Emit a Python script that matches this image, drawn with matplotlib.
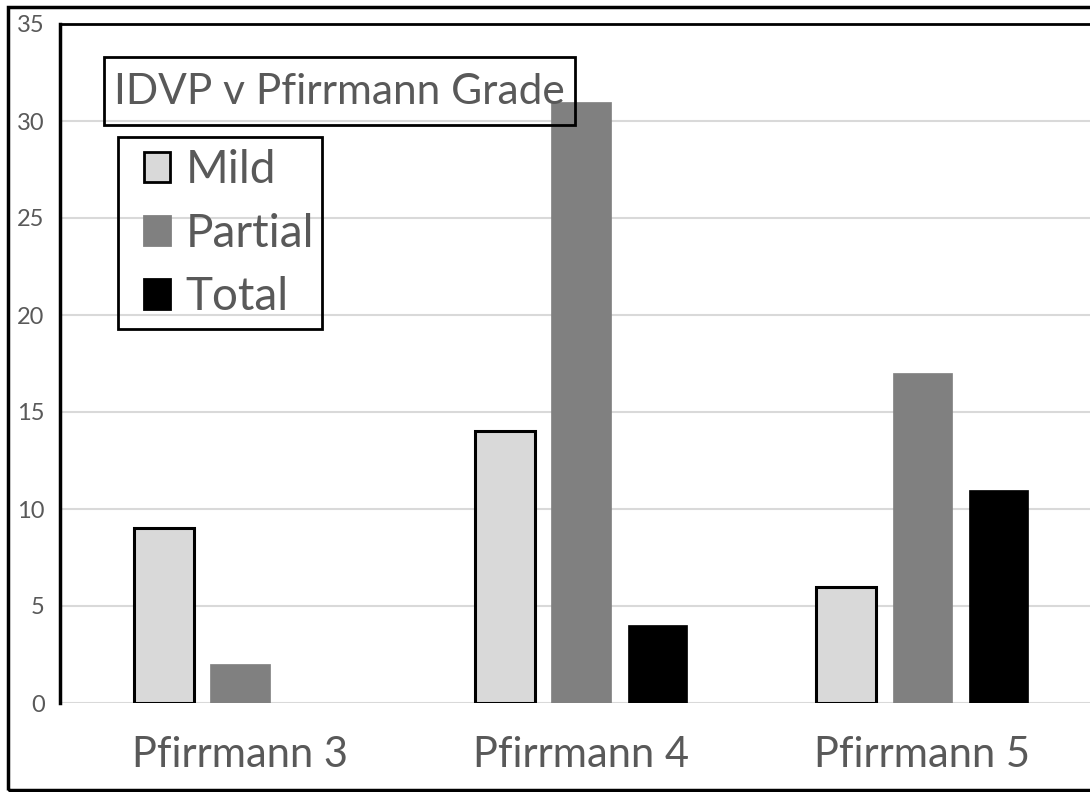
import numpy as np
import matplotlib.pyplot as plt
from matplotlib.patches import Rectangle, Patch

plt.rcParams['font.family'] = ['Lato', 'DejaVu Sans']

groups = ['Pfirrmann 3', 'Pfirrmann 4', 'Pfirrmann 5']
series = ['Mild', 'Partial', 'Total']
mild = [9, 14, 6]
partial = [2, 31, 17]
total = [0, 4, 11]
yticks = [0, 5, 10, 15, 20, 25, 30, 35]

fills = ['#d9d9d9', '#808080', '#000000']
edges = ['#000000', '#808080', '#000000']
text_grey = '#595959'

W, H = 1090, 792
fig = plt.figure(figsize=(W / 100, H / 100), dpi=100)

def px_rect(x0, y0, x1, y1, **kw):
    # rectangle given in pixel coords measured from the top-left corner
    return Rectangle((x0 / W, (H - y1) / H), (x1 - x0) / W, (y1 - y0) / H,
                     transform=fig.transFigure, fill=False, edgecolor='black', **kw)

# outer frame, right side runs off the canvas
fig.patches.append(px_rect(8, 7, 1300, 790, linewidth=2.5))

ax = fig.add_axes([60 / W, (H - 703) / H, (1093 - 60) / W, (703 - 24) / H])
x = np.arange(len(groups))
step, width = 0.223, 0.175
for i, vals in enumerate([mild, partial, total]):
    ax.bar(x + (i - 1) * step, vals, width, color=fills[i], edgecolor=edges[i],
           linewidth=2.2 if i == 0 else 0.5, zorder=3, label=series[i])

ax.set_xlim(-0.528, 2.5)
ax.set_ylim(0, 35)
ax.set_yticks(yticks)
ax.set_xticks(x)
ax.set_xticklabels(groups)
ax.yaxis.grid(True, color='#d9d9d9', linewidth=1.5, zorder=0)
ax.tick_params(axis='y', length=0, pad=11, labelsize=17, labelcolor=text_grey)
ax.tick_params(axis='x', length=0, pad=24, labelsize=30, labelcolor=text_grey)
for side in ['right', 'bottom']:
    ax.spines[side].set_visible(False)
ax.spines['left'].set_linewidth(2.5)
ax.spines['top'].set_linewidth(2)

# title inside an outlined box
fig.patches.append(px_rect(104, 57, 575, 125, linewidth=2, zorder=5))
fig.text(114 / W, (H - 92) / H, 'IDVP v Pfirrmann Grade', fontsize=30.5,
         color=text_grey, va='center', ha='left')

# legend, with its own outline box
fig.patches.append(px_rect(118, 137, 322, 329, linewidth=2, zorder=5))
handles = [Patch(facecolor=fills[i], edgecolor='black' if i == 0 else fills[i],
                 linewidth=2) for i in range(3)]
leg = ax.legend(handles, series, loc='upper left',
                bbox_to_anchor=(144 / W, (H - 149) / H), bbox_transform=fig.transFigure,
                fontsize=33, handlelength=0.57, handleheight=0.62, handletextpad=0.33,
                labelspacing=0.47, borderpad=0, frameon=False, borderaxespad=0)
for t in leg.get_texts():
    t.set_color(text_grey)

fig.savefig('out.png', dpi=100)
